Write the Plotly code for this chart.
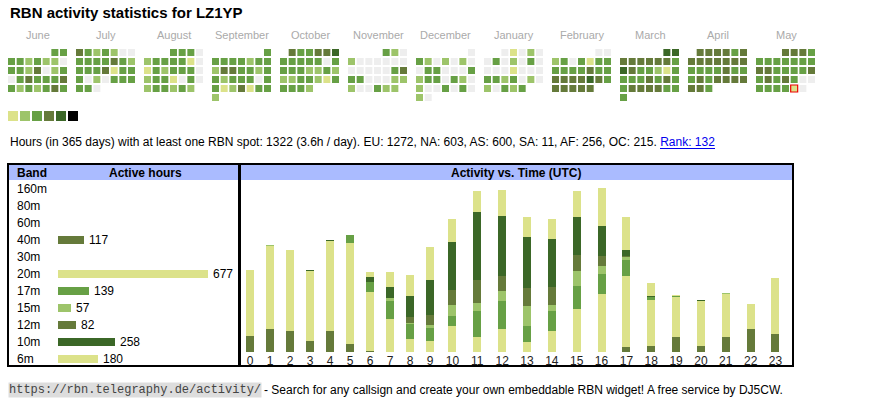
import plotly.graph_objects as go

W, H = 870, 407
FONT = "Arial, Liberation Sans, sans-serif"

# ---------- data ----------
months = ["June", "July", "August", "September", "October", "November", "December",
          "January", "February", "March", "April", "May"]
cal = {
 "June":      [".....33", "3323220", "3324023", "0343334", "3232343"],
 "July":      ["4323200", "3333432", "3334133", "3020333", "330"],
 "August":    ["...3330", "2333310", "1323330", "2331030", "233232"],
 "September": ["......3", "3333233", "2443323", "3233303", "3124133", "2"],
 "October":   [".433445", "3333303", "3332232", "2233213", "3332"],
 "November":  ["....320", "2000000", "0000034", "3300022", "200322"],
 "December":  ["......0", "3202020", "0330003", "2330320", "2003030", "20"],
 "January":   ["..01020", "0302030", "0001000", "3323020", "20323"],
 "February":  [".....00", "2303133", "3333433", "4444543", "44444"],
 "March":     [".....55", "4444443", "5433213", "3334343", "3444433", "3"],
 "April":     [".444434", "4444444", "3333433", "3434444", "443"],
 "May":       ["...4443", "3333333", "4433334", "3434300", "333310"],
}
today = ("May", 4, 4)
level_colors = ["#eeeeee", "#dce28a", "#9dc46a", "#67a045", "#657a3a", "#3b6727", "#000000"]

bands = ["160m", "80m", "60m", "40m", "30m", "20m", "17m", "15m", "12m", "10m", "6m"]
band_hours = [0, 0, 0, 117, 0, 677, 139, 57, 82, 258, 180]
band_colors = {"40m": "#657a3a", "20m": "#dce28a", "17m": "#67a045", "15m": "#9dc46a",
               "12m": "#657a3a", "10m": "#3b6727", "6m": "#dce28a"}

hours = list(range(24))
act = {
 "40m": [16, 23, 21, 11, 21, 8, 1, 0, 0, 0, 0, 0, 0, 0, 0, 0, 0, 5, 6, 15, 6, 15, 23, 18],
 "20m": [66, 83, 81, 70, 90, 101, 59, 33, 13, 11, 26, 15, 23, 10, 21, 43, 58, 71, 46, 40, 45, 43, 25, 56],
 "17m": [0, 0, 0, 0, 0, 8, 10, 18, 15, 13, 10, 26, 28, 16, 20, 23, 20, 16, 3, 1, 0, 0, 0, 0],
 "15m": [0, 1, 0, 0, 0, 0, 0, 3, 1, 3, 11, 8, 10, 20, 6, 15, 8, 3, 0, 0, 0, 1, 0, 0],
 "12m": [0, 0, 0, 0, 0, 0, 0, 0, 6, 10, 15, 23, 15, 18, 18, 16, 10, 1, 0, 0, 0, 0, 0, 0],
 "10m": [0, 0, 0, 1, 1, 0, 5, 11, 21, 35, 48, 68, 60, 51, 48, 38, 30, 6, 1, 0, 1, 0, 0, 0],
 "6m":  [0, 0, 0, 0, 0, 0, 5, 15, 21, 33, 23, 21, 26, 20, 20, 26, 38, 33, 13, 1, 0, 0, 0, 0],
}

def py(p):
    return 1 - p / H

def px(p):
    return p / W

fig = go.Figure()

xs, ys, cs, tx, ty = [], [], [], [], []
for mi, m in enumerate(months):
    for ri, row in enumerate(cal[m]):
        for ci, ch in enumerate(row):
            if ch == ".":
                continue
            x = 11.5 + mi * 68 + ci * 8.67
            y = 52.5 + ri * 9
            xs.append(x); ys.append(y); cs.append(level_colors[int(ch)])
            if (m, ri, ci) == today:
                tx.append(x); ty.append(y)
fig.add_trace(go.Scatter(x=xs, y=ys, mode="markers", hoverinfo="skip",
    marker=dict(symbol="square", size=7, color=cs, line=dict(width=0)), xaxis="x", yaxis="y"))
fig.add_trace(go.Scatter(x=tx, y=ty, mode="markers", hoverinfo="skip",
    marker=dict(symbol="square", size=7, color="rgba(0,0,0,0)", line=dict(width=1.2, color="#ee0000")),
    xaxis="x", yaxis="y"))
fig.add_trace(go.Scatter(x=[13 + i * 12 for i in range(6)], y=[116] * 6, mode="markers", hoverinfo="skip",
    marker=dict(symbol="square", size=10, color=level_colors[1:], line=dict(width=0)), xaxis="x", yaxis="y"))

ann = []
def A(x, y, text, size=12, color="#000", anchor="left", **kw):
    ann.append(dict(x=px(x), y=py(y), xref="paper", yref="paper", xanchor=anchor, yanchor="middle",
                    text=text, showarrow=False, font=dict(size=size, color=color, family=kw.pop("family", FONT)), **kw))

for mi, m in enumerate(months):
    A(38 + mi * 68, 35, m, size=11, color="#aaaaaa", anchor="center")

bi = list(range(len(bands)))
fig.add_trace(go.Bar(x=band_hours, y=bi, orientation="h", width=0.5,
    marker=dict(color=[band_colors.get(b, "#ffffff") for b in bands], line=dict(width=0)),
    hoverinfo="skip", xaxis="x2", yaxis="y2"))
for i, b in enumerate(bands):
    A(15, 189 + 17 * i, b)
    if band_hours[i]:
        A(58 + band_hours[i] * 150 / 677 + 3, 189 + 17 * i, str(band_hours[i]))

# table-like column layout: columns with 2-digit labels are wider
col_w = [20 if h < 10 else 24.85 for h in hours]
hx, acc = [], 240.0
for w in col_w:
    hx.append(acc + w / 2)
    acc += w

for b in ["40m", "20m", "17m", "15m", "12m", "10m", "6m"]:
    fig.add_trace(go.Bar(x=hx, y=act[b], width=8, marker=dict(color=band_colors[b], line=dict(width=0)),
                         hoverinfo="skip", xaxis="x3", yaxis="y3"))

A(8, 13, "<b>RBN activity statistics for LZ1YP</b>", size=15)
A(8, 142, "Hours (in 365 days) with at least one RBN spot: 1322 (3.6h / day). EU: 1272, NA: 603, AS: 600, SA: 11, AF: 256, OC: 215. "
          "<span style='color:#0000ee'>Rank: 132</span>")
A(15, 172.5, "<b>Band</b>")
A(145, 172.5, "<b>Active hours</b>", anchor="center")
A(516, 172.5, "<b>Activity vs. Time (UTC)</b>", anchor="center")
A(8, 390, "https://rbn.telegraphy.de/activity/", size=12, color="#444", bgcolor="#dddddd", borderpad=0,
  family="Liberation Mono, DejaVu Sans Mono, monospace")
A(262, 390, "- Search for any callsign and create your own embeddable RBN widget! A free service by DJ5CW.")

shapes = [
    dict(type="rect", xref="paper", yref="paper", x0=px(9), x1=px(238), y0=py(165), y1=py(180),
         fillcolor="#aabbff", line=dict(width=0), layer="below"),
    dict(type="rect", xref="paper", yref="paper", x0=px(241), x1=px(792), y0=py(165), y1=py(180),
         fillcolor="#aabbff", line=dict(width=0), layer="below"),
    dict(type="rect", xref="paper", yref="paper", x0=px(8), x1=px(239), y0=py(164), y1=py(366),
         line=dict(width=2, color="#000")),
    dict(type="rect", xref="paper", yref="paper", x0=px(240), x1=px(793), y0=py(164), y1=py(366),
         line=dict(width=2, color="#000")),
    dict(type="line", xref="paper", yref="paper", x0=px(660), x1=px(715), y0=py(148.5), y1=py(148.5),
         line=dict(width=1, color="#0000ee")),
]

hid = dict(visible=False, fixedrange=True)
fig.update_layout(
    width=W, height=H, margin=dict(l=0, r=0, t=0, b=0, autoexpand=False), autosize=False,
    paper_bgcolor="#fff", plot_bgcolor="rgba(0,0,0,0)", showlegend=False, barmode="stack",
    font=dict(family=FONT),
    xaxis=dict(domain=[0, 1], range=[0, W], autorange=False, **hid),
    yaxis=dict(domain=[0, 1], range=[H, 0], autorange=False, **hid),
    xaxis2=dict(domain=[px(58), px(208)], range=[0, 677], autorange=False, anchor="y2", **hid),
    yaxis2=dict(domain=[py(367.5), py(180.5)], range=[10.5, -0.5], autorange=False, anchor="x2", **hid),
    xaxis3=dict(domain=[px(240), px(792)], range=[240, 792], autorange=False, anchor="y3", fixedrange=True,
                tickmode="array", tickvals=hx, ticktext=[str(h) for h in hours], showgrid=False,
                zeroline=False, showline=False, ticks="", automargin=False,
                tickfont=dict(size=12, color="#222", family=FONT)),
    yaxis3=dict(domain=[py(352), py(182)], range=[0, 170], autorange=False, anchor="x3", **hid),
    annotations=ann, shapes=shapes,
)
fig.write_html("out.html", config={"displayModeBar": False},
               post_script="document.body.style.margin='0';document.body.style.overflow='hidden';")
